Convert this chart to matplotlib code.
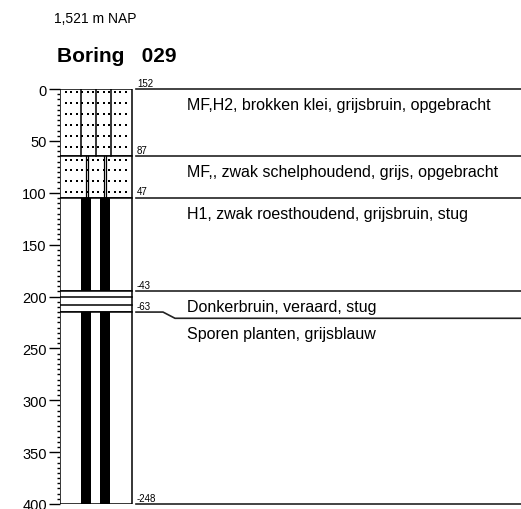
import numpy as np
import matplotlib
matplotlib.use("Agg")
import matplotlib.pyplot as plt
from matplotlib.patches import Rectangle
from matplotlib.ticker import MultipleLocator

plt.rcParams["font.family"] = ["Liberation Sans", "DejaVu Sans"]

# boring data (depth in cm below surface, NAP level in cm)
surface = "1,521 m NAP"
boring = "029"
tops = [0, 65, 105, 195, 215]
bottoms = [65, 105, 195, 215, 400]
nap = [152, 87, 47, -43, -63, -248]
lith = ["zand", "zand2", "veen", "klei", "veen"]
descr = [
    "MF,H2, brokken klei, grijsbruin, opgebracht",
    "MF,, zwak schelphoudend, grijs, opgebracht",
    "H1, zwak roesthoudend, grijsbruin, stug",
    "Donkerbruin, veraard, stug",
    "Sporen planten, grijsblauw",
]

W, H = 521, 510
fig = plt.figure(figsize=(W / 100, H / 100), dpi=100)
ax = fig.add_axes([60 / W, 5 / H, 461 / W, 415 / H])
ax.set_xlim(0, 461)
ax.set_ylim(400, 0)

colw = 72.3   # column width in px
lw = 1.1


def dots(y0, y1):
    xs = 5.7 + 5.45 * np.arange(12)
    ys = np.arange(y0 + 3, y1 - 2, 10.5)
    gx, gy = np.meshgrid(xs, ys)
    ax.scatter(gx.ravel(), gy.ravel(), s=2.2, c="black", marker="s", lw=0, zorder=3)


for t, b, kind in zip(tops, bottoms, lith):
    ax.add_patch(Rectangle((0, t), colw, b - t, fc="white", ec="black", lw=lw, zorder=2))
    if kind == "zand":
        dots(t, b)
        for x in [21, 36.3, 51]:
            ax.plot([x, x], [t, b], color="black", lw=lw, zorder=4)
    elif kind == "zand2":
        dots(t, b)
        for x in [26, 28.3, 44.3, 46.3]:
            ax.plot([x, x], [t, b], color="black", lw=0.9, zorder=4)
    elif kind == "veen":
        for x0, x1 in [(21, 31), (39.7, 50)]:
            ax.add_patch(Rectangle((x0, t), x1 - x0, b - t, fc="black", ec="none", zorder=3))
    elif kind == "klei":
        for y in [200.5, 208]:
            ax.plot([0, colw], [y, y], color="black", lw=lw, zorder=4)

# boundary lines and NAP labels on the right
bounds = tops + [bottoms[-1]]
jog = {215: 6}
for d, n in zip(bounds, nap):
    s = jog.get(d, 0)
    if s:
        ax.plot([76, 103, 115, 461], [d, d, d + s, d + s], color="#222222", lw=1.2, clip_on=False)
    else:
        ax.plot([76, 461], [d, d], color="#222222", lw=1.2, clip_on=False)
    ax.annotate(str(n), (77, d), xytext=(0, 2.5), textcoords="offset points",
                fontsize=7, va="baseline", ha="left")

for t, txt in zip(tops, descr):
    t2 = t + jog.get(t, 0)
    ax.text(127, t2 + 15, txt, fontsize=11.5, va="center", ha="left")

for sp in ["top", "right", "bottom", "left"]:
    ax.spines[sp].set_visible(False)
ax.set_xticks([])
ax.yaxis.set_major_locator(MultipleLocator(50))
ax.yaxis.set_minor_locator(MultipleLocator(5))
ax.tick_params(axis="y", which="major", length=8, width=1, labelsize=10.5, pad=1.5)
ax.tick_params(axis="y", which="minor", length=2.5, width=1)

fig.text(54 / W, 1 - 23.3 / H, surface, fontsize=10, va="baseline", ha="left")
fig.text(57 / W, 1 - 62 / H, "Boring   " + boring, fontsize=15, fontweight="bold",
         va="baseline", ha="left")

fig.savefig("out.png", dpi=100)
